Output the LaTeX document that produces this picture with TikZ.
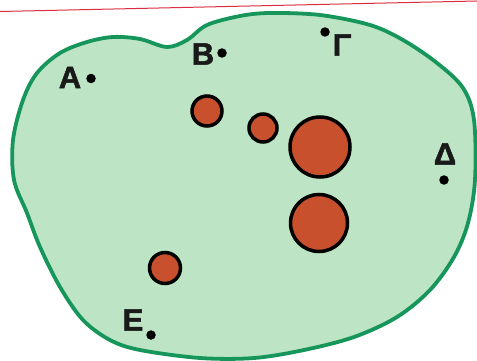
\documentclass[tikz,border=0pt]{standalone}
\usepackage{fontspec}
\setmainfont{Liberation Sans}
\newfontfamily\labfont[RawFeature={embolden=1.6}]{Liberation Sans Bold}
\definecolor{blobfill}{RGB}{190,228,198}
\definecolor{blobline}{RGB}{22,150,90}
\definecolor{ball}{RGB}{200,80,45}
\definecolor{redline}{RGB}{220,45,65}
\tikzset{
  lab/.style={inner sep=0pt, text=black!90, font=\labfont\fontsize{31}{31}\selectfont},
  pt/.style={circle, fill=black, inner sep=0pt, minimum size=9.5pt},
  ballnode/.style={circle, draw=black, line width=3.5pt, fill=ball, inner sep=0pt}
}
\begin{document}
\begin{tikzpicture}[x=1pt,y=-1pt]
\useasboundingbox (0,0) rectangle (477,361);
\fill[white] (0,0) rectangle (477,361);
\draw[redline, line width=1pt] (0,11.5) -- (477,1);
\draw[blobline, fill=blobfill, line width=3.8pt]
  plot[smooth cycle, tension=0.55] coordinates {
  (13,140) (23,100) (37,73) (60,53) (87,42) (113,37) (140,39) (167,47)
  (187,40) (207,25) (240,16) (270,13) (320,15) (370,25) (403,40) (437,63)
  (463,88) (474,120) (475,180) (468,223) (454,257) (430,290) (397,317)
  (354,337) (304,350) (254,358) (200,358) (140,350) (110,340) (83,320)
  (60,287) (40,247) (27,213) (14,180)};
% balls
\node[ballnode, minimum size=30pt] (c1) at (207,111) {};
\node[ballnode, minimum size=28pt] (c2) at (263,128) {};
\node[ballnode, minimum size=60pt] (c3) at (320,147) {};
\node[ballnode, minimum size=57pt] (c4) at (319,223) {};
\node[ballnode, minimum size=31pt] (c5) at (165,268) {};
% points
\node[pt] (pA) at (91,78.5) {};
\node[pt] (pB) at (222,53) {};
\node[pt] (pG) at (325,32) {};
\node[pt] (pD) at (444,180) {};
\node[pt] (pE) at (151,335) {};
% labels
\node[lab] (lA) at (70,77.5) {Α};
\node[lab] (lB) at (203,54) {Β};
\node[lab] (lG) at (342,45) {Γ};
\node[lab] (lD) at (445,154) {Δ};
\node[lab] (lE) at (133,320) {Ε};
\end{tikzpicture}
\end{document}
